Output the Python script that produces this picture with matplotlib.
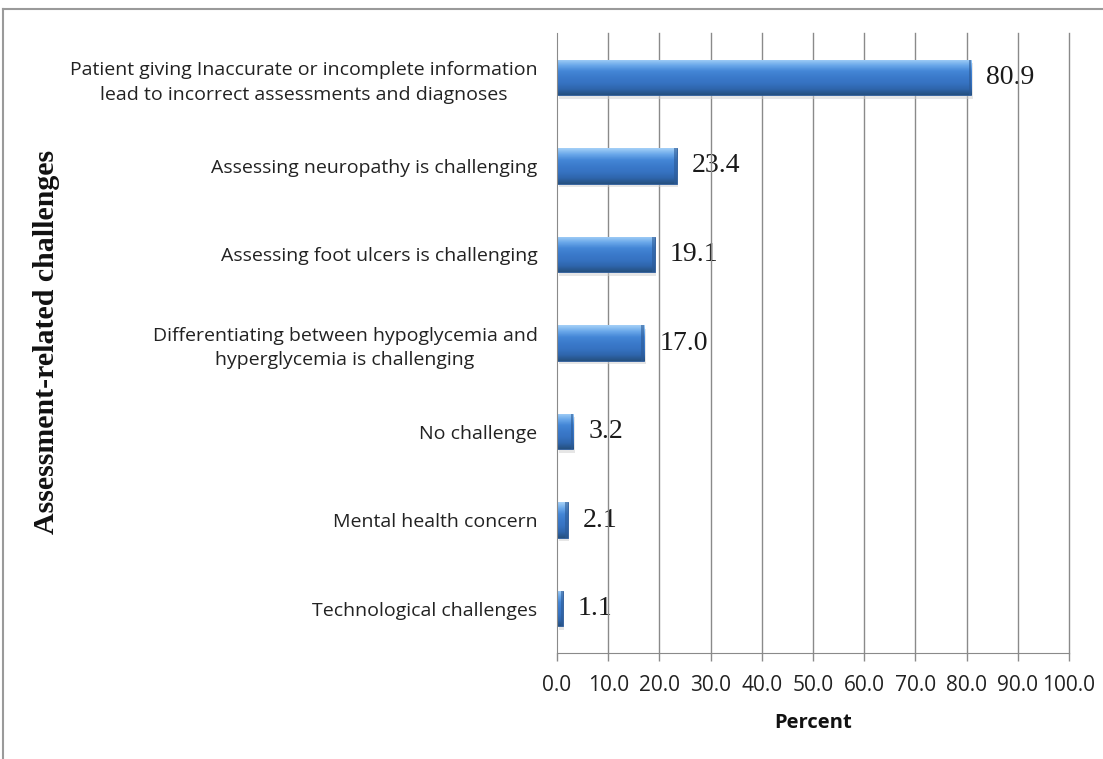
import numpy as np
import matplotlib
matplotlib.use("Agg")
import matplotlib.pyplot as plt
from matplotlib.colors import LinearSegmentedColormap
from matplotlib.patches import Rectangle
from matplotlib.lines import Line2D

# Survey results: assessment-related challenges (percent of respondents)
categories = [
    "Patient giving Inaccurate or incomplete information\nlead to incorrect assessments and diagnoses",
    "Assessing neuropathy is challenging",
    "Assessing foot ulcers is challenging",
    "Differentiating between hypoglycemia and\nhyperglycemia is challenging",
    "No challenge",
    "Mental health concern",
    "Technological challenges",
]
percent = [80.9, 23.4, 19.1, 17.0, 3.2, 2.1, 1.1]
x_ticks = [0, 10, 20, 30, 40, 50, 60, 70, 80, 90, 100]
x_tick_labels = [f"{t:.1f}" for t in x_ticks]

W, H = 1103, 759
fig = plt.figure(figsize=(W / 100, H / 100), dpi=100)
fig.patch.set_facecolor("white")

# outer frame around the chart area
fig.add_artist(Line2D([3 / W, 3 / W], [0, 1 - 9 / H], transform=fig.transFigure,
                      color="#9a9a9a", lw=1.5))
fig.add_artist(Line2D([3 / W, 1], [1 - 9 / H, 1 - 9 / H], transform=fig.transFigure,
                      color="#9a9a9a", lw=1.5))

left, right, top, bottom = 557, 1069, 33, 653
ax = fig.add_axes([left / W, 1 - bottom / H, (right - left) / W, (bottom - top) / H])

n = len(categories)
ypos = np.arange(n)
bar_h = 0.4

ax.set_xlim(0, 100)
ax.set_ylim(n - 0.5, -0.5)

# vertical gridlines
for t in x_ticks[1:]:
    ax.axvline(t, color="#8a8a8a", lw=1.0, zorder=1.5, clip_on=False)

# bars with a glossy vertical gradient
grad_cmap = LinearSegmentedColormap.from_list(
    "bevel", ["#a4d0f7", "#6aa8ea", "#4486d6", "#3b7acb", "#3673c2", "#2f66ad", "#25507f"])
grad = np.linspace(0, 1, 64).reshape(-1, 1)
for y, v in zip(ypos, percent):
    # soft drop shadow
    ax.add_patch(Rectangle((0.3, y - bar_h / 2 + 0.04), v, bar_h,
                           facecolor="#cfcfcf", edgecolor="none", alpha=0.5, zorder=1.8))
    bar = ax.barh(y, v, height=bar_h, color="#3b7acb", edgecolor="#2c5a96",
                  linewidth=0.6, zorder=2)[0]
    im = ax.imshow(grad, cmap=grad_cmap, aspect="auto",
                   extent=(0, v, y + bar_h / 2, y - bar_h / 2), zorder=2.1,
                   interpolation="bicubic")
    im.set_clip_path(bar)
    # darker rim at the bar end
    end_w = min(0.5, v * 0.25)
    ax.add_patch(Rectangle((v - end_w, y - bar_h / 2), end_w, bar_h,
                           facecolor="#2c5a96", edgecolor="none", alpha=0.6, zorder=2.2))
    ax.annotate(f"{v:.1f}", xy=(v, y), xytext=(11, 0), textcoords="offset points",
                ha="left", va="center", fontsize=20, family="Liberation Serif",
                color="#1a1a1a", zorder=1)

ax.set_xlim(0, 100)
ax.set_ylim(n - 0.5, -0.5)

ax.set_xticks(x_ticks)
ax.set_xticklabels(x_tick_labels, family="Open Sans", fontsize=15, color="#222222")
ax.tick_params(axis="x", length=6, width=1, color="#8a8a8a", pad=10)
ax.set_yticks(ypos)
ax.set_yticklabels(categories, family="Open Sans", fontsize=14, color="#222222",
                   linespacing=1.45)
ax.tick_params(axis="y", length=0, pad=14)
for lbl in ax.get_yticklabels():
    lbl.set_ha("right")
    lbl.set_multialignment("center")

for s in ["top", "right"]:
    ax.spines[s].set_visible(False)
ax.spines["bottom"].set_color("#8a8a8a")
ax.spines["left"].set_color("#8a8a8a")

fig.text((left + right) / 2 / W, 1 - 723 / H, "Percent", ha="center", va="center",
         family="Open Sans", fontweight="bold", fontsize=14.5, color="#111111")
fig.text(47 / W, 1 - 342 / H, "Assessment-related challenges", rotation=90,
         ha="center", va="center", family="Liberation Serif", fontweight="bold",
         fontsize=21.5, color="#111111")

fig.savefig("out.png", dpi=100, facecolor="white")
